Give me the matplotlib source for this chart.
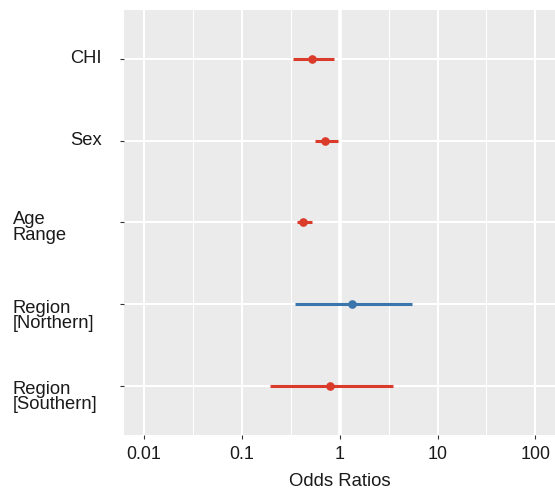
import matplotlib
matplotlib.use("Agg")
import matplotlib.pyplot as plt
import numpy as np

# ---- data ----
terms = ["CHI", "Sex", "Age\nRange", "Region\n[Northern]", "Region\n[Southern]"]
odds_ratio = [0.525, 0.707, 0.422, 1.35, 0.795]
ci_low = [0.336, 0.554, 0.370, 0.352, 0.195]
ci_high = [0.885, 0.958, 0.521, 5.5, 3.5]
x_ticks = [0.01, 0.1, 1, 10, 100]
x_tick_labels = ["0.01", "0.1", "1", "10", "100"]
x_title = "Odds Ratios"

# ---- style ----
RED = "#DB3B2B"
BLUE = "#3A76AC"
PANEL = "#EBEBEB"
TXT = "#1a1a1a"
FONT = "Liberation Sans"
plt.rcParams["font.family"] = [FONT, "DejaVu Sans"]

DPI = 100
W, H = 555, 489
fig = plt.figure(figsize=(W / DPI, H / DPI), dpi=DPI)
left_px, right_px, top_px, bottom_px = 124.3, 555.0, 11.0, 435.7
ax = fig.add_axes([left_px / W, 1 - bottom_px / H,
                   (right_px - left_px) / W, (bottom_px - top_px) / H])
ax.set_facecolor(PANEL)
for s in ax.spines.values():
    s.set_visible(False)

ax.set_xscale("log")
ax.set_xlim(10 ** -2.2, 10 ** 2.2)
n = len(terms)
ypos = np.arange(n)
ax.set_ylim(n - 1 + 0.6, -0.6)

# gridlines
minor = [np.sqrt(a * b) for a, b in zip(x_ticks[:-1], x_ticks[1:])]
for m in minor:
    ax.axvline(m, color="white", lw=0.75, zorder=0.5)
for t in x_ticks:
    ax.axvline(t, color="white", lw=1.45, zorder=0.6)
for y in ypos:
    ax.axhline(y, color="white", lw=1.45, zorder=0.6)
ax.axvline(1, color="white", lw=2.6, zorder=0.7)

# error bars + points
for i in range(n):
    c = BLUE if odds_ratio[i] > 1 else RED
    ax.plot([ci_low[i], ci_high[i]], [ypos[i], ypos[i]], color=c, lw=2.2,
            solid_capstyle="butt", zorder=2)
    ax.plot([odds_ratio[i]], [ypos[i]], "o", color=c, ms=5.2, mec=c, zorder=3)

# ticks
ax.set_xticks(x_ticks)
ax.set_xticklabels(x_tick_labels)
ax.xaxis.set_minor_locator(matplotlib.ticker.NullLocator())
ax.tick_params(axis="x", length=2.9, width=0.8, color="#333333", pad=4.4,
               labelsize=12.9, labelcolor=TXT)
ax.set_yticks(ypos)
ax.set_yticklabels([""] * n)
ax.tick_params(axis="y", length=2.9, width=0.8, color="#333333")

# y labels
first_base = [3.2, 3.2, 0.8, 7.7, 7.0]
step = 15.5
for i, lab in enumerate(terms):
    lines = lab.split("\n")
    if len(lines) == 1:
        ax.annotate(lab, xy=(0, ypos[i]), xycoords=ax.get_yaxis_transform(),
                    xytext=(101.5 - left_px, -first_base[i]),
                    textcoords="offset pixels", ha="right", va="baseline",
                    fontsize=13.2, color=TXT)
    else:
        for k, ln in enumerate(lines):
            ax.annotate(ln, xy=(0, ypos[i]), xycoords=ax.get_yaxis_transform(),
                        xytext=(12.5 - left_px, -(first_base[i] + k * step)),
                        textcoords="offset pixels", ha="left", va="baseline",
                        fontsize=13.2, color=TXT)

xl = ax.set_xlabel(x_title, fontsize=13.3, color=TXT)
xl.set_va("baseline")
ax.xaxis.set_label_coords(0.5, -(486 - bottom_px) / (bottom_px - top_px))

fig.savefig("out.png", dpi=DPI)
